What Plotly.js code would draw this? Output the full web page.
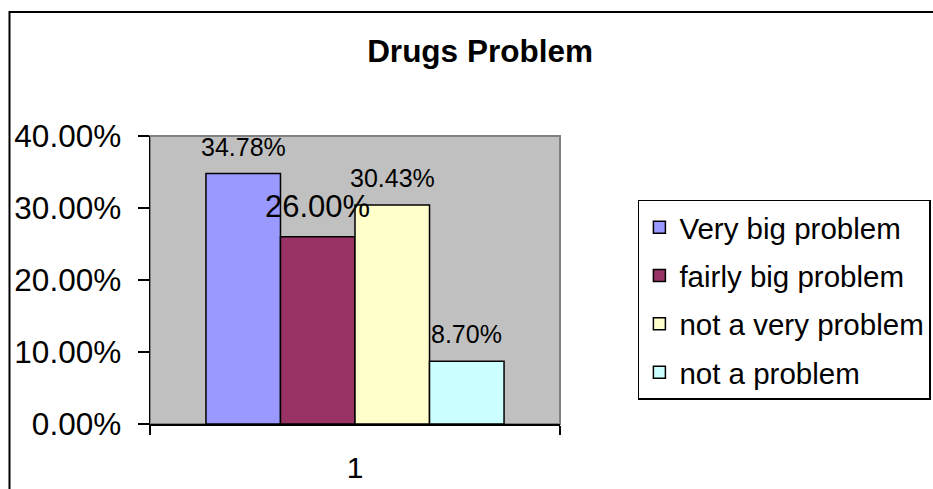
<!DOCTYPE html>
<html>
<head>
<meta charset="utf-8">
<script src="https://cdn.plot.ly/plotly-3.0.1.min.js"></script>
<style>
html,body{margin:0;padding:0;background:#fff;}
#chart{width:933px;height:489px;}
</style>
</head>
<body>
<div id="chart"></div>
<script>
var categories = ['1'];
var seriesNames = ['Very big problem', 'fairly big problem', 'not a very problem', 'not a problem'];
var seriesValues = [[0.3478], [0.26], [0.3043], [0.087]];
var seriesColors = ['#9999FF', '#993366', '#FFFFCC', '#CCFFFF'];
var labelSizes = [25, 31, 25, 25];
var yTickValues = [0, 0.1, 0.2, 0.3, 0.4];

var FONT = 'Liberation Sans, Arial, sans-serif';
var bargap = 0.273;
var n = seriesNames.length;
var bw = (1 - bargap) / n;

var traces = seriesNames.map(function (name, i) {
  return {
    type: 'bar',
    name: name,
    x: categories,
    y: seriesValues[i],
    marker: {color: seriesColors[i], line: {color: '#000', width: 1.5}},
    legendgroup: 'g' + i,
    hoverinfo: 'none'
  };
});

var annotations = [];
seriesValues.forEach(function (vals, i) {
  vals.forEach(function (v, c) {
    annotations.push({
      x: c - (1 - bargap) / 2 + (i + 0.5) * bw,
      y: v,
      xref: 'x', yref: 'y',
      text: (v * 100).toFixed(2) + '%',
      showarrow: false,
      yanchor: 'bottom',
      yshift: 11,
      font: {family: FONT, size: labelSizes[i], color: '#000'}
    });
  });
});

var layout = {
  width: 933, height: 489,
  margin: {l: 150, r: 373, t: 136, b: 65, pad: 0, autoexpand: false},
  paper_bgcolor: '#fff',
  plot_bgcolor: '#C0C0C0',
  barmode: 'group',
  bargap: bargap,
  bargroupgap: 0,
  showlegend: true,
  title: {
    text: '<b>Drugs Problem</b>',
    font: {family: FONT, size: 31.5, color: '#000'},
    xref: 'container', yref: 'container',
    x: 0.5145, xanchor: 'center',
    y: 0.896, yanchor: 'middle'
  },
  xaxis: {
    type: 'category',
    tickson: 'boundaries',
    ticks: 'outside', ticklen: 9, tickwidth: 1.5, tickcolor: '#000',
    showline: true, linecolor: '#000', linewidth: 1.5,
    showgrid: false, zeroline: false,
    tickfont: {family: FONT, size: 30, color: '#000'},
    ticklabelstandoff: 16,
    fixedrange: true
  },
  yaxis: {
    range: [0, 0.4],
    tickvals: yTickValues,
    tickformat: '.2%',
    ticks: 'outside', ticklen: 11, tickwidth: 1.5, tickcolor: '#000',
    showline: true, linecolor: '#000', linewidth: 1.5,
    showgrid: false, zeroline: false,
    tickfont: {family: FONT, size: 31.5, color: '#000'},
    ticklabelstandoff: 10,
    fixedrange: true
  },
  legend: {
    x: 1.19, xanchor: 'left',
    y: 0.7778, yanchor: 'top',
    xref: 'paper', yref: 'paper',
    bgcolor: '#fff',
    bordercolor: '#000', borderwidth: 1.5,
    font: {family: FONT, size: 29.5, color: '#000'},
    traceorder: 'grouped',
    tracegroupgap: 7
  },
  shapes: [
    {type: 'rect', xref: 'paper', yref: 'paper', x0: 0, x1: 1, y0: 0, y1: 1,
     line: {color: '#808080', width: 2}, layer: 'below'},
    {type: 'rect', xref: 'paper', yref: 'paper', x0: -0.3427, x1: 2, y0: -0.4, y1: 1.4306,
     line: {color: '#000', width: 2}, fillcolor: 'rgba(0,0,0,0)', layer: 'below'}
  ],
  annotations: annotations
};

Plotly.newPlot('chart', traces, layout, {displayModeBar: false, staticPlot: true});
</script>
</body>
</html>
